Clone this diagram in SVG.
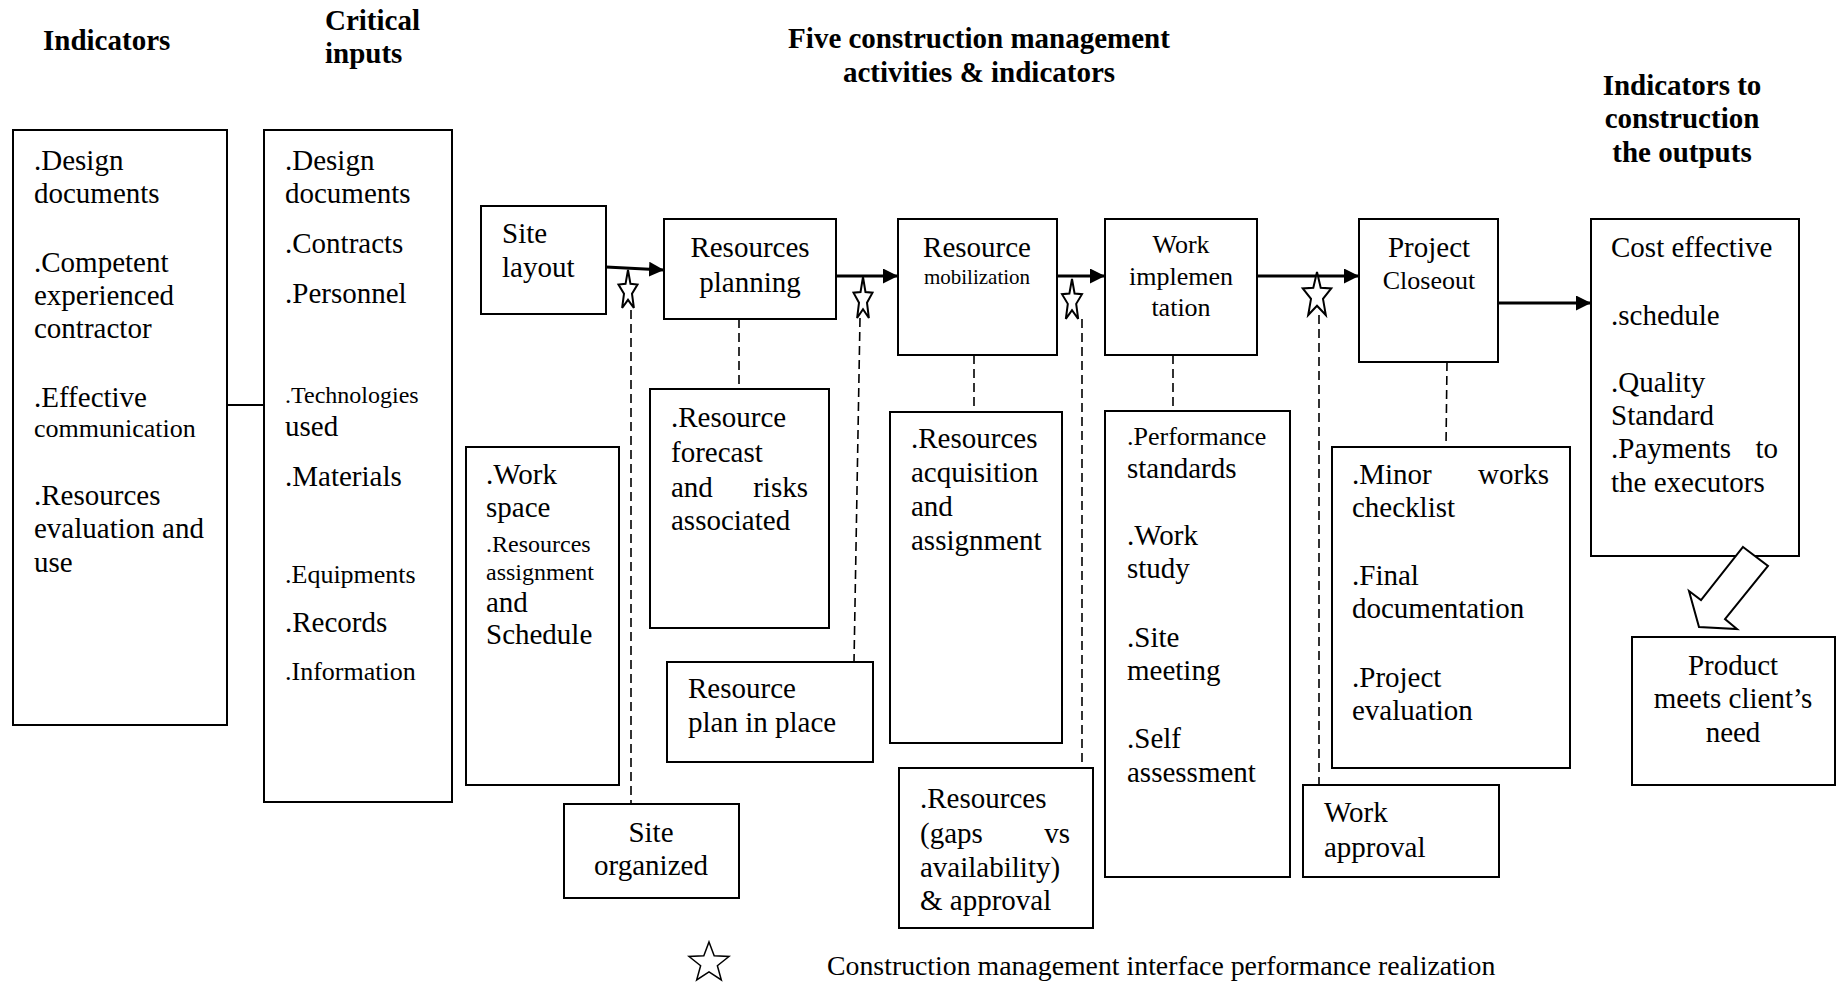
<svg xmlns="http://www.w3.org/2000/svg" width="1841" height="984" viewBox="0 0 1841 984">
<style>
.box{fill:#fff;stroke:#000;stroke-width:2}
text{font-family:"Liberation Serif","Times New Roman",serif;font-size:29px;fill:#000}
.b{font-weight:bold}
.c{text-anchor:middle}
.e{text-anchor:end}
.s21{font-size:21px}
.s24{font-size:24px}
.s26{font-size:26px}
.dash{stroke:#000;stroke-width:1.6;stroke-dasharray:9 5;fill:none}
.flow{stroke:#000;stroke-width:3;fill:none;marker-end:url(#ah)}
.plain{stroke:#000;stroke-width:2;fill:none}
.star{fill:#fff;stroke:#000;stroke-width:2;vector-effect:non-scaling-stroke}
</style>
<defs>
<marker id="ah" markerUnits="userSpaceOnUse" markerWidth="16" markerHeight="16" refX="15" refY="7.5" orient="auto">
<path d="M0,0 L15,7.5 L0,15 Z" fill="#000"/>
</marker>
</defs>
<rect width="1841" height="984" fill="#fff"/>

<g id="titles">
<text class="b" x="43" y="50">Indicators</text>
<text class="b" x="325" y="30">Critical</text>
<text class="b" x="325" y="63">inputs</text>
<text class="b c" x="979" y="48">Five construction management</text>
<text class="b c" x="979" y="82">activities &amp; indicators</text>
<text class="b c" x="1682" y="95">Indicators to</text>
<text class="b c" x="1682" y="128">construction</text>
<text class="b c" x="1682" y="162">the outputs</text>
</g>

<g id="indicators">
<rect class="box" x="13" y="130" width="214" height="595"/>
<text x="34" y="170">.Design</text>
<text x="34" y="203">documents</text>
<text x="34" y="272">.Competent</text>
<text x="34" y="305">experienced</text>
<text x="34" y="338">contractor</text>
<text x="34" y="407">.Effective</text>
<text class="s26" x="34" y="437">communication</text>
<text x="34" y="505">.Resources</text>
<text x="34" y="538">evaluation and</text>
<text x="34" y="572">use</text>
</g>

<g id="critical-inputs">
<rect class="box" x="264" y="130" width="188" height="672"/>
<text x="285" y="170">.Design</text>
<text x="285" y="203">documents</text>
<text x="285" y="253">.Contracts</text>
<text x="285" y="303">.Personnel</text>
<text class="s24" x="285" y="403">.Technologies</text>
<text x="285" y="436">used</text>
<text x="285" y="486">.Materials</text>
<text class="s26" x="285" y="583">.Equipments</text>
<text x="285" y="632">.Records</text>
<text class="s26" x="285" y="680">.Information</text>
</g>

<g id="site-layout">
<rect class="box" x="481" y="206" width="125" height="108"/>
<text x="502" y="243">Site</text>
<text x="502" y="277">layout</text>
</g>

<g id="resources-planning">
<rect class="box" x="664" y="219" width="172" height="100"/>
<text class="c" x="750" y="257">Resources</text>
<text class="c" x="750" y="292">planning</text>
</g>

<g id="resource-mobilization">
<rect class="box" x="898" y="219" width="159" height="136"/>
<text class="c" x="977" y="257">Resource</text>
<text class="c s21" x="977" y="284">mobilization</text>
</g>

<g id="work-implementation">
<rect class="box" x="1105" y="219" width="152" height="136"/>
<text class="c s26" x="1181" y="253">Work</text>
<text class="c s26" x="1181" y="285">implemen</text>
<text class="c s26" x="1181" y="316">tation</text>
</g>

<g id="project-closeout">
<rect class="box" x="1359" y="219" width="139" height="143"/>
<text class="c" x="1429" y="257">Project</text>
<text class="c s26" x="1429" y="289">Closeout</text>
</g>

<g id="outputs">
<rect class="box" x="1591" y="219" width="208" height="337"/>
<text x="1611" y="257">Cost effective</text>
<text x="1611" y="325">.schedule</text>
<text x="1611" y="392">.Quality</text>
<text x="1611" y="425">Standard</text>
<text x="1611" y="458">.Payments<tspan x="1778" class="e">to</tspan></text>
<text x="1611" y="492">the executors</text>
</g>

<g id="work-space">
<rect class="box" x="466" y="447" width="153" height="338"/>
<text x="486" y="484">.Work</text>
<text x="486" y="517">space</text>
<text class="s24" x="486" y="552">.Resources</text>
<text class="s24" x="486" y="580">assignment</text>
<text x="486" y="612">and</text>
<text x="486" y="644">Schedule</text>
</g>

<g id="site-organized">
<rect class="box" x="564" y="804" width="175" height="94"/>
<text class="c" x="651" y="842">Site</text>
<text class="c" x="651" y="875">organized</text>
</g>

<g id="resource-forecast">
<rect class="box" x="650" y="389" width="179" height="239"/>
<text x="671" y="427">.Resource</text>
<text x="671" y="462">forecast</text>
<text x="671" y="497">and<tspan x="808" class="e">risks</tspan></text>
<text x="671" y="530">associated</text>
</g>

<g id="resource-plan">
<rect class="box" x="667" y="662" width="206" height="100"/>
<text x="688" y="698">Resource</text>
<text x="688" y="732">plan in place</text>
</g>

<g id="resources-acquisition">
<rect class="box" x="890" y="412" width="172" height="331"/>
<text x="911" y="448">.Resources</text>
<text x="911" y="482">acquisition</text>
<text x="911" y="516">and</text>
<text x="911" y="550">assignment</text>
</g>

<g id="resources-gaps">
<rect class="box" x="899" y="768" width="194" height="160"/>
<text x="920" y="808">.Resources</text>
<text x="920" y="843">(gaps<tspan x="1070" class="e">vs</tspan></text>
<text x="920" y="877">availability)</text>
<text x="920" y="910">&amp; approval</text>
</g>

<g id="performance">
<rect class="box" x="1105" y="411" width="185" height="466"/>
<text class="s26" x="1127" y="445">.Performance</text>
<text x="1127" y="478">standards</text>
<text x="1127" y="545">.Work</text>
<text x="1127" y="578">study</text>
<text x="1127" y="647">.Site</text>
<text x="1127" y="680">meeting</text>
<text x="1127" y="748">.Self</text>
<text x="1127" y="782">assessment</text>
</g>

<g id="minor-works">
<rect class="box" x="1332" y="447" width="238" height="321"/>
<text x="1352" y="484">.Minor<tspan x="1549" class="e">works</tspan></text>
<text x="1352" y="517">checklist</text>
<text x="1352" y="585">.Final</text>
<text x="1352" y="618">documentation</text>
<text x="1352" y="687">.Project</text>
<text x="1352" y="720">evaluation</text>
</g>

<g id="work-approval">
<rect class="box" x="1303" y="785" width="196" height="92"/>
<text x="1324" y="822">Work</text>
<text x="1324" y="857">approval</text>
</g>

<g id="product">
<rect class="box" x="1632" y="637" width="203" height="148"/>
<text class="c" x="1733" y="675">Product</text>
<text class="c" x="1733" y="708">meets client’s</text>
<text class="c" x="1733" y="742">need</text>
</g>

<g id="connectors">
<line class="plain" x1="227" y1="405" x2="264" y2="405"/>
<line class="dash" x1="631" y1="310" x2="631" y2="804"/>
<line class="dash" x1="739" y1="319" x2="739" y2="389"/>
<line class="dash" x1="860" y1="318" x2="854" y2="662"/>
<line class="dash" x1="974" y1="355" x2="974" y2="412"/>
<line class="dash" x1="1082" y1="319" x2="1082" y2="768"/>
<line class="dash" x1="1173" y1="355" x2="1173" y2="411"/>
<line class="dash" x1="1319" y1="315" x2="1319" y2="785"/>
<line class="dash" x1="1447" y1="362" x2="1446" y2="447"/>
<line class="flow" x1="606" y1="267" x2="664" y2="270"/>
<line class="flow" x1="836" y1="276" x2="898" y2="276"/>
<line class="flow" x1="1057" y1="276" x2="1105" y2="276"/>
<line class="flow" x1="1257" y1="276" x2="1359" y2="276"/>
<line class="flow" x1="1498" y1="303" x2="1591" y2="303"/>
<polygon class="box" points="1743,547 1768,566 1725,619 1737,629 1699,627 1689,591 1701,600"/>
<path class="star" transform="translate(628,291) scale(10,21)" d="M0,-1 L0.247,-0.34 L0.951,-0.309 L0.399,0.13 L0.588,0.809 L0,0.42 L-0.588,0.809 L-0.399,0.13 L-0.951,-0.309 L-0.247,-0.34 Z"/>
<path class="star" transform="translate(863,299.7) scale(10,22.7)" d="M0,-1 L0.247,-0.34 L0.951,-0.309 L0.399,0.13 L0.588,0.809 L0,0.42 L-0.588,0.809 L-0.399,0.13 L-0.951,-0.309 L-0.247,-0.34 Z"/>
<path class="star" transform="translate(1072,301) scale(10.5,22)" d="M0,-1 L0.247,-0.34 L0.951,-0.309 L0.399,0.13 L0.588,0.809 L0,0.42 L-0.588,0.809 L-0.399,0.13 L-0.951,-0.309 L-0.247,-0.34 Z"/>
<path class="star" transform="translate(1317,295.8) scale(15,23.8)" d="M0,-1 L0.247,-0.34 L0.951,-0.309 L0.399,0.13 L0.588,0.809 L0,0.42 L-0.588,0.809 L-0.399,0.13 L-0.951,-0.309 L-0.247,-0.34 Z"/>
</g>

<g id="legend">
<path class="star" style="stroke-width:1.5" transform="translate(709,963) scale(21,21)" d="M0,-1 L0.247,-0.34 L0.951,-0.309 L0.399,0.13 L0.588,0.809 L0,0.42 L-0.588,0.809 L-0.399,0.13 L-0.951,-0.309 L-0.247,-0.34 Z"/>
<text x="827" y="975" style="font-size:27.8px">Construction management interface performance realization</text>
</g>
</svg>
